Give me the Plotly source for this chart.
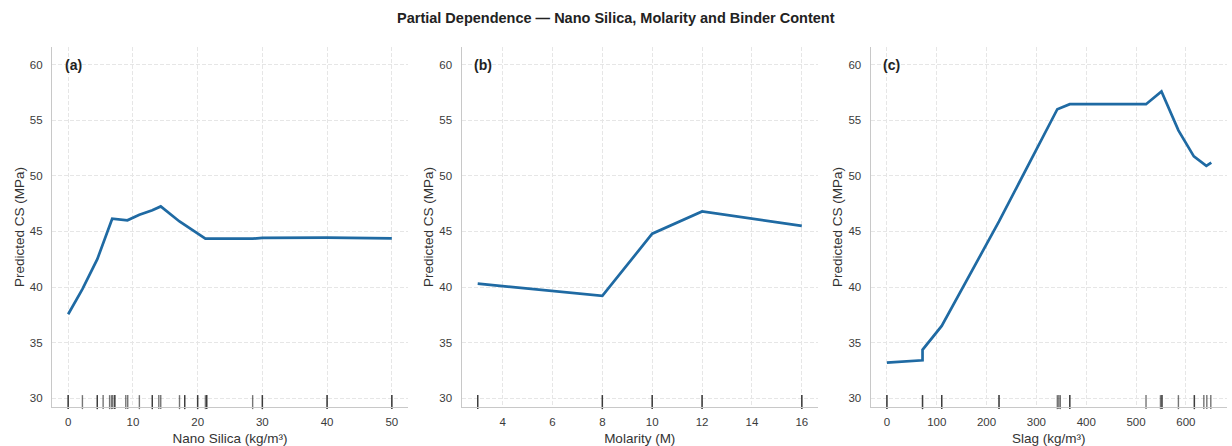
import plotly.graph_objects as go

# ---------------- data ----------------
ns_x = [0, 2.2, 4.5, 5.4, 6.8, 9.15, 11, 13, 14.3, 17.2, 20, 21.2, 28.5, 30, 40, 50]
ns_y = [37.55, 39.8, 42.5, 44.0, 46.15, 46.0, 46.5, 46.9, 47.25, 45.9, 44.8, 44.35, 44.35, 44.42, 44.45, 44.38]
ns_rug = [0, 0, 2.2, 4.5, 4.5, 5.4, 6.4, 6.7, 6.9, 7.2, 7.2, 8.9, 9.2, 11, 13, 13,
          14.0, 14.3, 17.2, 18, 18, 20, 20, 21.2, 21.4, 21.4, 28.5, 30, 30, 40, 40, 50, 50]

mol_x = [3, 8, 10, 12, 16]
mol_y = [40.3, 39.2, 44.8, 46.8, 45.5]
mol_rug = [3, 3, 8, 8, 10, 10, 12, 12, 16, 16]

slag_x = [0, 71.5, 71.5, 110, 225, 342, 367, 520, 551, 585, 616, 641, 651]
slag_y = [33.2, 33.4, 34.35, 36.5, 45.9, 56.0, 56.45, 56.45, 57.6, 54.1, 51.75, 50.9, 51.2]
slag_rug = [0, 0, 71.5, 71.5, 110, 110, 225, 225, 342, 345, 348, 367, 367, 520, 549, 552, 552,
            585, 617, 617, 636, 642, 650]

panels = [
    ("(a)", "Nano Silica (kg/m³)", ns_x, ns_y, ns_rug, [-2.5, 52.5], 10),
    ("(b)", "Molarity (M)", mol_x, mol_y, mol_rug, [2.35, 16.65], 2),
    ("(c)", "Slag (kg/m³)", slag_x, slag_y, slag_rug, [-32.5, 682.5], 100),
]

y_range = [29.2, 61.6]
y_ticks = [30, 35, 40, 45, 50, 55, 60]
rug_level = 29.64

# ---------------- layout geometry ----------------
W, H = 1232, 446
x_domains = [(52, 408), (461.5, 818), (870.7, 1227)]
y_dom = [(H - 407) / H, (H - 47) / H]

FONT = "Liberation Sans, Arial, sans-serif"
LINE_COLOR = "#1f6aa3"
GRID = "#e6e6e6"
SPINE = "#c8c8c8"

fig = go.Figure()
layout = dict(
    width=W, height=H,
    margin=dict(l=0, r=0, t=0, b=0),
    paper_bgcolor="white", plot_bgcolor="white",
    showlegend=False,
    font=dict(family=FONT, color="#333333"),
    annotations=[],
)

for i, (lab, xtitle, xs, ys, rug, xr, dtick) in enumerate(panels):
    n = "" if i == 0 else str(i + 1)
    xa, ya = "x" + n, "y" + n
    fig.add_trace(go.Scatter(x=xs, y=ys, mode="lines", xaxis=xa, yaxis=ya,
                             line=dict(color=LINE_COLOR, width=2.7), hoverinfo="skip"))
    fig.add_trace(go.Scatter(x=rug, y=[rug_level] * len(rug), mode="markers", xaxis=xa, yaxis=ya,
                             marker=dict(symbol="line-ns", size=10,
                                         line=dict(color="rgba(25,25,25,0.6)", width=1.4)),
                             hoverinfo="skip", cliponaxis=False))
    d0, d1 = x_domains[i]
    layout["xaxis" + n] = dict(
        domain=[d0 / W, d1 / W], range=xr, anchor=ya, dtick=dtick, tick0=0,
        showgrid=True, gridcolor=GRID, griddash="4px,2px", gridwidth=0.8,
        showline=True, linecolor=SPINE, linewidth=1.3, zeroline=False,
        ticks="", ticklabelstandoff=4, tickfont=dict(size=11.5, color="#3a3a3a"),
        title=dict(text=xtitle, font=dict(size=13.5, color="#333333"), standoff=8),
    )
    layout["yaxis" + n] = dict(
        domain=y_dom, range=y_range, anchor=xa, tickvals=y_ticks,
        showgrid=True, gridcolor=GRID, griddash="4px,2px", gridwidth=0.8,
        showline=True, linecolor=SPINE, linewidth=1.3, zeroline=False,
        ticks="", ticklabelstandoff=6, tickfont=dict(size=11.5, color="#3a3a3a"),
        title=dict(text="Predicted CS (MPa)", font=dict(size=13.5, color="#333333"), standoff=2),
    )
    layout["annotations"].append(dict(
        text="<b>" + lab + "</b>", xref=xa + " domain", yref=ya + " domain",
        x=0.03, y=0.95, xanchor="left", yanchor="middle", showarrow=False,
        font=dict(size=14, color="#222222", family=FONT)))

layout["annotations"].append(dict(
    text="<b>Partial Dependence — Nano Silica, Molarity and Binder Content</b>",
    xref="paper", yref="paper", x=0.5, y=1 - 18 / H, xanchor="center", yanchor="middle",
    showarrow=False, font=dict(size=14.5, color="#222222", family=FONT)))

fig.update_layout(**layout)
fig.write_html("out.html")
